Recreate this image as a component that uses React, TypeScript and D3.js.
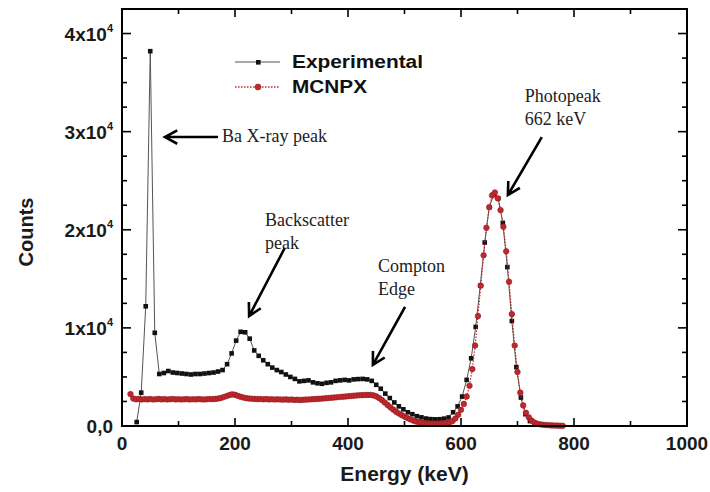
import * as d3 from "d3";

// Experimental spectrum (keV, counts)
const expEnergy = [
  26, 34, 42, 50, 58, 66, 74, 82, 90, 98, 106, 114, 122, 130, 138, 146, 154, 162, 170, 178,
  186, 194, 202, 210, 218, 226, 234, 242, 250, 258, 266, 274, 282, 290, 298, 306, 314, 322, 330, 338,
  346, 354, 362, 370, 378, 386, 394, 402, 410, 418, 426, 434, 442, 450, 458, 466, 474, 482, 490, 498,
  506, 514, 522, 530, 538, 546, 554, 562, 570, 578, 586, 594, 602, 610, 618, 626, 634, 642, 650, 658,
  666, 674, 682, 690, 698, 706, 714, 722, 730,
];
const expCounts = [
  400, 3400, 12200, 38200, 9500, 5300, 5400, 5600, 5450, 5400, 5350, 5300, 5250, 5300, 5300, 5350, 5400, 5450, 5550, 5700,
  6300, 7400, 8700, 9600, 9550, 8900, 7700, 7150, 6700, 6300, 5950, 5700, 5500, 5250, 5000, 4800, 4550, 4600, 4650, 4450,
  4350, 4300, 4400, 4450, 4600, 4650, 4700, 4650, 4750, 4780, 4800, 4750, 4600, 4200, 3800, 3300, 2850, 2400, 2000, 1700,
  1400, 1200, 1000, 880, 760, 700, 680, 690, 750, 870, 1400, 2000, 3000, 4700, 6900, 10100, 14300, 18700, 22300, 23600,
  23200, 20700, 16200, 10700, 6000, 2900, 1200, 500, 200,
];

// MCNPX simulation (keV, counts)
const simEnergy = [
  15, 20, 25, 30, 35, 40, 45, 50, 55, 60, 65, 70, 75, 80, 85, 90, 95, 100, 105, 110,
  115, 120, 125, 130, 135, 140, 145, 150, 155, 160, 165, 170, 175, 180, 185, 190, 195, 200, 205, 210,
  215, 220, 225, 230, 235, 240, 245, 250, 255, 260, 265, 270, 275, 280, 285, 290, 295, 300, 305, 310,
  315, 320, 325, 330, 335, 340, 345, 350, 355, 360, 365, 370, 375, 380, 385, 390, 395, 400, 405, 410,
  415, 420, 425, 430, 435, 440, 445, 450, 455, 460, 465, 470, 475, 480, 485, 490, 495, 500, 505, 510,
  515, 520, 525, 530, 535, 540, 545, 550, 555, 560, 565, 570, 575, 580, 585, 590, 595, 600, 605, 610,
  615, 620, 625, 630, 635, 640, 645, 650, 655, 660, 665, 670, 675, 680, 685, 690, 695, 700, 705, 710,
  715, 720, 725, 730, 735, 740, 745, 750, 755, 760, 765, 770, 775, 780,
];
const simCounts = [
  3250, 2800, 2720, 2760, 2700, 2740, 2710, 2750, 2700, 2730, 2760, 2710, 2740, 2700, 2730, 2750, 2710, 2730, 2700, 2720,
  2740, 2700, 2730, 2710, 2740, 2720, 2700, 2730, 2750, 2740, 2760, 2800, 2860, 2950, 3050, 3150, 3220, 3180, 3080, 2980,
  2900, 2840, 2800, 2780, 2760, 2740, 2750, 2720, 2740, 2710, 2730, 2700, 2720, 2700, 2690, 2710, 2680, 2700, 2660, 2680,
  2650, 2670, 2690, 2700, 2720, 2740, 2760, 2780, 2800, 2830, 2850, 2880, 2900, 2930, 2950, 2980, 3000, 3030, 3060, 3090,
  3110, 3140, 3150, 3160, 3170, 3160, 3120, 3020, 2860, 2640, 2400, 2150, 1900, 1670, 1460, 1280, 1110, 960, 820, 690,
  570, 470, 400, 340, 300, 270, 250, 240, 240, 250, 270, 290, 320, 370, 500, 760, 1150, 1650, 2250, 3000,
  4100, 5800, 8200, 11200, 14300, 17400, 20200, 22300, 23500, 23800, 23200, 22000, 20300, 17800, 14700, 11400, 8200, 5500, 3400, 2100,
  1350, 880, 560, 350, 230, 170, 130, 100, 80, 60, 50, 40, 30, 20,
];

const xTicks = [0, 200, 400, 600, 800, 1000];
const xMinorTicks = [100, 300, 500, 700, 900];
const yTicks = [0, 10000, 20000, 30000, 40000];
const yTickLabels = ["0,0", "1x10", "2x10", "3x10", "4x10"];
const yMinorTicks = [2500, 5000, 7500, 12500, 15000, 17500, 22500, 25000, 27500, 32500, 35000, 37500];

// annotations: text lines, text anchor point, arrow tail and tip (data coords)
const notes = [
  { lines: ["Ba X-ray peak"], at: [177, 28940], tail: [170, 29450], tip: [76, 29450] },
  { lines: ["Backscatter", "peak"], at: [253, 20380], tail: [288, 18140], tip: [225, 11210] },
  { lines: ["Compton", "Edge"], at: [453, 15700], tail: [501, 12130], tip: [444, 6220] },
  { lines: ["Photopeak", "662 keV"], at: [713, 33020], tail: [743, 29450], tip: [683, 23540] },
];

const W = 710;
const H = 492;
const M = { left: 122, right: 23, top: 9, bottom: 66 };

const sans = "'Liberation Sans', Arial, Helvetica, sans-serif";
const serif = "'Liberation Serif', 'Times New Roman', serif";
const red = "#c1272d";

export default function App() {
  const x = d3.scaleLinear().domain([0, 1000]).range([M.left, W - M.right]);
  const y = d3.scaleLinear().domain([0, 42500]).range([H - M.bottom, M.top]);
  const [x0, x1] = x.range();
  const [y0, y1] = y.range();

  const expPath = d3.line<number>()
    .x((d) => x(expEnergy[d]))
    .y((d) => y(expCounts[d]))(d3.range(expEnergy.length));
  const simPath = d3.line<number>()
    .x((d) => x(simEnergy[d]))
    .y((d) => y(simCounts[d]))(d3.range(simEnergy.length));

  // thick arrow with an open V head
  const arrow = (tail: number[], tip: number[]) => {
    const tx = x(tail[0]), ty = y(tail[1]);
    const px = x(tip[0]), py = y(tip[1]);
    const a = Math.atan2(ty - py, tx - px);
    const L = 14, s = 0.5;
    const h1 = [px + L * Math.cos(a + s), py + L * Math.sin(a + s)];
    const h2 = [px + L * Math.cos(a - s), py + L * Math.sin(a - s)];
    return `M${tx},${ty}L${px},${py}M${h1[0]},${h1[1]}L${px},${py}L${h2[0]},${h2[1]}`;
  };

  return (
    <svg width={W} height={H} style={{ position: "absolute", left: 0, top: 0, background: "#fff" }}>
      {/* data */}
      <path d={expPath ?? ""} fill="none" stroke="#555" strokeWidth={1} />
      {expEnergy.map((e, i) => (
        <rect key={"e" + i} x={x(e) - 2.3} y={y(expCounts[i]) - 2.3} width={4.6} height={4.6} fill="#111" />
      ))}
      <path d={simPath ?? ""} fill="none" stroke={red} strokeWidth={1.2} strokeDasharray="1.5,1.5" />
      {simEnergy.map((e, i) => (
        <circle key={"s" + i} cx={x(e)} cy={y(simCounts[i])} r={2.8} fill={red} stroke="#8e1b1f" strokeWidth={0.6} />
      ))}

      {/* frame */}
      <rect x={x0} y={y1} width={x1 - x0} height={y0 - y1} fill="none" stroke="#000" strokeWidth={2} />
      {xTicks.map((t) => (
        <g key={"xt" + t}>
          <line x1={x(t)} x2={x(t)} y1={y0} y2={y0 - 8} stroke="#000" strokeWidth={1.6} />
          <line x1={x(t)} x2={x(t)} y1={y1} y2={y1 + 8} stroke="#000" strokeWidth={1.6} />
          <text x={x(t)} y={450} textAnchor="middle" fontFamily={sans} fontWeight="bold" fontSize={19} fill="#1a1a1a">
            {t}
          </text>
        </g>
      ))}
      {xMinorTicks.map((t) => (
        <g key={"xm" + t}>
          <line x1={x(t)} x2={x(t)} y1={y0} y2={y0 - 5} stroke="#000" strokeWidth={1.6} />
          <line x1={x(t)} x2={x(t)} y1={y1} y2={y1 + 5} stroke="#000" strokeWidth={1.6} />
        </g>
      ))}
      {yTicks.map((t, i) => (
        <g key={"yt" + t}>
          <line x1={x0} x2={x0 + 9} y1={y(t)} y2={y(t)} stroke="#000" strokeWidth={1.6} />
          <line x1={x1} x2={x1 - 9} y1={y(t)} y2={y(t)} stroke="#000" strokeWidth={1.6} />
          <text x={113} y={y(t) + 7} textAnchor="end" fontFamily={sans} fontWeight="bold" fontSize={19} fill="#1a1a1a">
            {yTickLabels[i]}
            {i > 0 && (
              <tspan fontSize={11} dy={-9}>
                4
              </tspan>
            )}
          </text>
        </g>
      ))}
      {yMinorTicks.map((t) => (
        <g key={"ym" + t}>
          <line x1={x0} x2={x0 + 5} y1={y(t)} y2={y(t)} stroke="#000" strokeWidth={1.6} />
          <line x1={x1} x2={x1 - 5} y1={y(t)} y2={y(t)} stroke="#000" strokeWidth={1.6} />
        </g>
      ))}

      {/* axis titles */}
      <text x={(x0 + x1) / 2} y={481} textAnchor="middle" fontFamily={sans} fontWeight="bold" fontSize={21} fill="#1a1a1a">
        Energy (keV)
      </text>
      <text transform="translate(33,232) rotate(-90)" textAnchor="middle" fontFamily={sans} fontWeight="bold" fontSize={20} fill="#1a1a1a">
        Counts
      </text>

      {/* legend */}
      <line x1={235} x2={280} y1={62} y2={62} stroke="#555" strokeWidth={1.2} />
      <rect x={256} y={60} width={4.6} height={4.6} fill="#111" />
      <text x={292} y={68} fontFamily={sans} fontWeight="bold" fontSize={18} textLength={131} lengthAdjust="spacingAndGlyphs" fill="#111">
        Experimental
      </text>
      <line x1={235} x2={280} y1={87} y2={87} stroke={red} strokeWidth={1.4} strokeDasharray="1.5,1.5" />
      <circle cx={258} cy={87} r={3} fill={red} stroke="#8e1b1f" strokeWidth={0.6} />
      <text x={292} y={93} fontFamily={sans} fontWeight="bold" fontSize={18} textLength={75} lengthAdjust="spacingAndGlyphs" fill="#111">
        MCNPX
      </text>

      {/* annotations */}
      {notes.map((n, k) => (
        <g key={"n" + k}>
          <path d={arrow(n.tail, n.tip)} fill="none" stroke="#000" strokeWidth={2.6} />
          {n.lines.map((s, j) => (
            <text key={j} x={x(n.at[0])} y={y(n.at[1]) + j * 23} fontFamily={serif} fontSize={18} fill="#222">
              {s}
            </text>
          ))}
        </g>
      ))}
    </svg>
  );
}
